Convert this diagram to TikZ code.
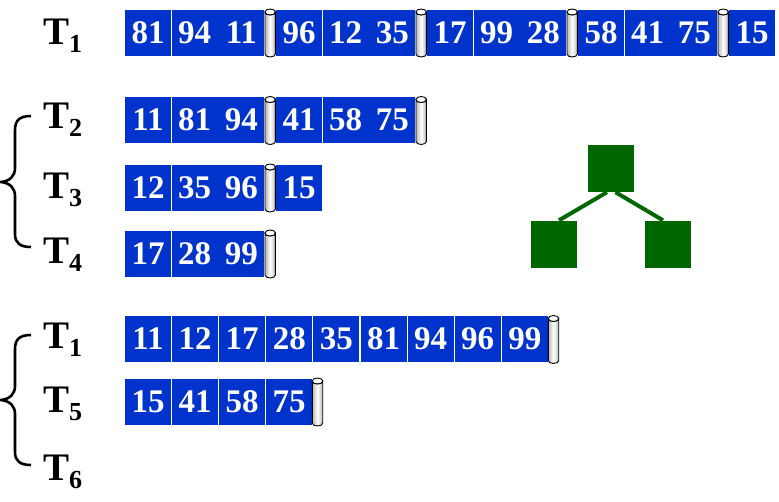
\documentclass[tikz,border=0pt]{standalone}
\usepackage{fontspec}
\setmainfont{Liberation Serif}
\definecolor{cellblue}{HTML}{0033CC}
\definecolor{treegreen}{HTML}{006600}
\newcommand\tlab[1]{{\fontsize{39}{39}\selectfont T}\raisebox{-8pt}{\fontsize{26}{26}\selectfont #1}}
\tikzset{
 cell/.style={rectangle, fill=cellblue, minimum width=46pt, minimum height=46pt, inner sep=0pt, text=white, font=\fontsize{33}{33}\selectfont\bfseries},
 lbl/.style={anchor=base west, inner sep=0pt, font=\bfseries},
 tnode/.style={rectangle, fill=treegreen, minimum width=46pt, minimum height=47pt, inner sep=0pt},
 tedge/.style={treegreen, line width=4pt},
 bracestyle/.style={black, line width=2.6pt},
 cylpic/.pic={
  \shade[left color=gray!55, right color=gray!55, middle color=white, draw=black, line width=0.9pt]
   (-5.2,-21) -- (-5.2,21) arc[start angle=180, end angle=0, x radius=5.2, y radius=3]
   -- (5.2,-21) arc[start angle=0, end angle=180, x radius=5.2, y radius=3] -- cycle;
  \draw[line width=0.9pt, fill=white] (0,-21) ellipse[x radius=5.2, y radius=3];
 }
}
\begin{document}
\begin{tikzpicture}[x=1pt,y=-1pt]
\useasboundingbox (0,0) rectangle (779,501);
% row T1 (top)
\foreach \x/\t [count=\i] in {125/81,171.7/94,218.4/11,276/96,322.7/12,369.4/35,427/17,473.7/99,520.4/28,578/58,624.7/41,671.4/75,729/15}
  \node[cell] (ra\i) at (\x+23,32.5) {\t};
\foreach \c in {270.2,421.2,572.2,723.2} \pic at (\c,33) {cylpic};
% row T2
\foreach \x/\t [count=\i] in {125/11,171.7/81,218.4/94,276/41,322.7/58,369.4/75}
  \node[cell] (rb\i) at (\x+23,120) {\t};
\foreach \c in {270.2,421.2} \pic at (\c,120.5) {cylpic};
% row T3
\foreach \x/\t [count=\i] in {125/12,171.7/35,218.4/96,276/15}
  \node[cell] (rc\i) at (\x+23,187.5) {\t};
\pic at (270.2,188) {cylpic};
% row T4
\foreach \x/\t [count=\i] in {125/17,171.7/28,218.4/99}
  \node[cell] (rd\i) at (\x+23,253.5) {\t};
\pic at (270.2,254) {cylpic};
% row T1 (merged)
\foreach \x/\t [count=\i] in {125/11,172.1/12,219.2/17,266.3/28,313.4/35,360.5/81,407.6/94,454.7/96,501.8/99}
  \node[cell] (re\i) at (\x+23,339) {\t};
\pic at (553.5,339.5) {cylpic};
% row T5
\foreach \x/\t [count=\i] in {125/15,172/41,219/58,266/75}
  \node[cell] (rf\i) at (\x+23,401.5) {\t};
\pic at (317.5,402) {cylpic};
% labels
\node[lbl] (l1) at (43,44) {\tlab{1}};
\node[lbl] (l2) at (43,128) {\tlab{2}};
\node[lbl] (l3) at (43,198) {\tlab{3}};
\node[lbl] (l4) at (43,263.5) {\tlab{4}};
\node[lbl] (l5) at (43,348) {\tlab{1}};
\node[lbl] (l6) at (43,412) {\tlab{5}};
\node[lbl] (l7) at (43,480) {\tlab{6}};
% braces
\draw[bracestyle] (31,116) .. controls (20,116) and (15,120) .. (15,130) -- (15,168)
  .. controls (15,176) and (10,181) .. (1,182) .. controls (10,183) and (15,188) .. (15,196)
  -- (15,234) .. controls (15,243) and (20,247) .. (31,247);
\draw[bracestyle] (31,335) .. controls (20,335) and (15,339) .. (15,349) -- (15,386)
  .. controls (15,394) and (10,399) .. (1,400) .. controls (10,401) and (15,406) .. (15,414)
  -- (15,452) .. controls (15,461) and (20,465) .. (31,465);
% tree
\node[tnode] (tt) at (611,168.5) {};
\node[tnode] (tl) at (554,244) {};
\node[tnode] (tr) at (668,244) {};
\draw[tedge] ([xshift=-4pt]tt.south) -- ([xshift=5pt]tl.north);
\draw[tedge] ([xshift=4.5pt]tt.south) -- ([xshift=-5pt]tr.north);
\end{tikzpicture}
\end{document}
